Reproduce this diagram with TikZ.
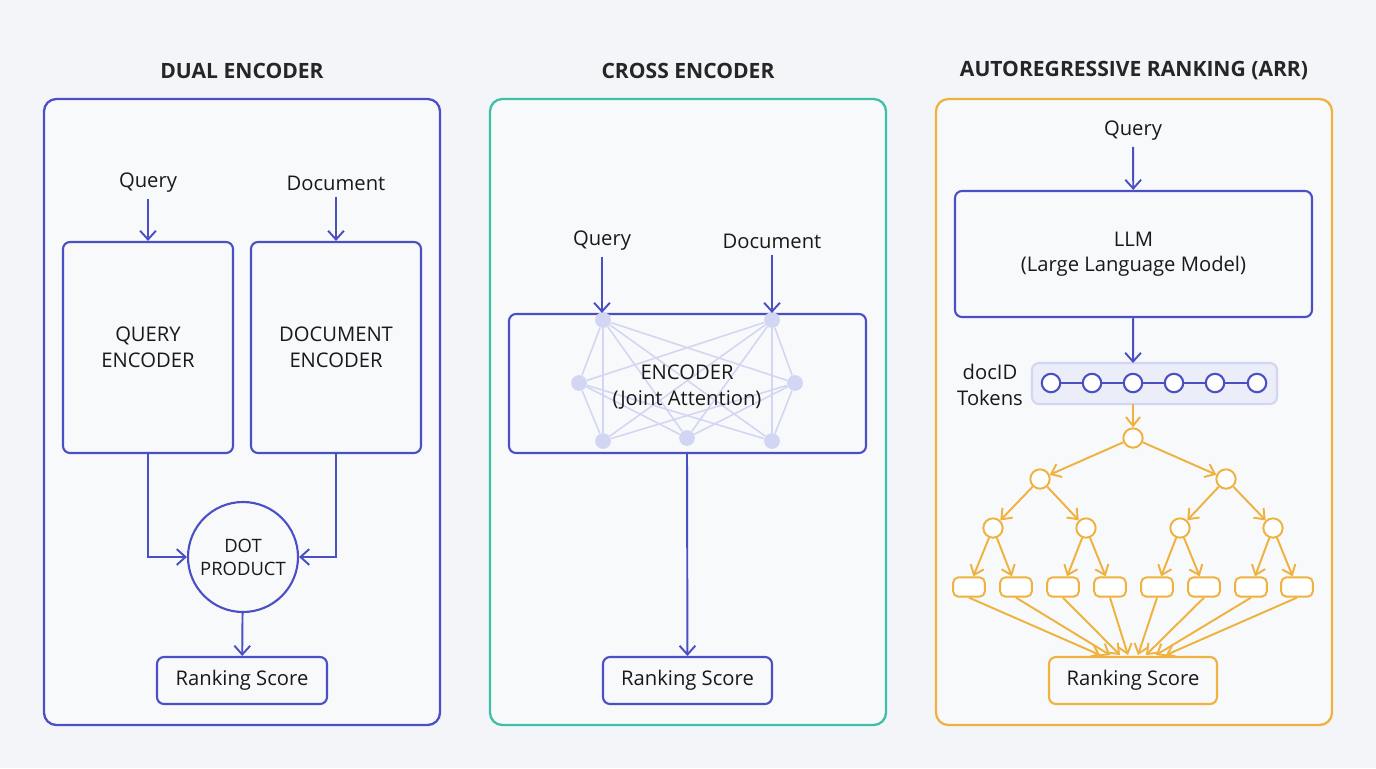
\documentclass[tikz,border=0pt]{standalone}
\usepackage{fontspec}
\setmainfont{Open Sans}
\usetikzlibrary{arrows.meta,positioning}
\definecolor{bgc}{HTML}{F3F5F9}
\definecolor{indigo}{HTML}{4A4FC4}
\definecolor{tealc}{HTML}{3DBFA8}
\definecolor{amber}{HTML}{EFB23E}
\definecolor{netc}{HTML}{D3D6F2}
\tikzset{
  panel/.style={draw=#1, line width=1.3pt, rounded corners=7pt, fill=white!40!bgc},
  ttl/.style={font=\bfseries\fontsize{12}{14}\selectfont, text=black!85},
  lbl/.style={font=\fontsize{11.5}{14.5}\selectfont, text=black!90, align=center},
  blk/.style={draw=indigo, line width=1.2pt, rounded corners=4pt, lbl},
  arr/.style={-{Straight Barb[length=5pt,width=9pt]}, line width=1.1pt, draw=indigo},
  oarr/.style={-{Straight Barb[length=5pt,width=8pt]}, line width=1.1pt, draw=amber},
  net/.style={circle, fill=netc, inner sep=0pt, minimum size=9pt},
  tok/.style={circle, draw=indigo, line width=1.2pt, fill=white, minimum size=10.5pt, inner sep=0pt},
  knot/.style={circle, draw=amber, line width=1.1pt, fill=white, minimum size=11pt, inner sep=0pt},
  leaf/.style={draw=amber, line width=1.1pt, rounded corners=3pt, fill=white, minimum width=18pt, minimum height=11pt, inner sep=0pt}
}
\begin{document}
\begin{tikzpicture}[x=0.02cm, y=-0.02cm]
  \fill[bgc] (0,0) rectangle (1376,768);
  \useasboundingbox (0,0) rectangle (1376,768);

  % panels and titles
  \draw[panel=indigo] (44,99) rectangle (440,725);
  \draw[panel=tealc] (490,99) rectangle (886,725);
  \draw[panel=amber] (936,99) rectangle (1332,725);
  \node[ttl] (t1) at (242,71) {DUAL ENCODER};
  \node[ttl] (t2) at (688,71) {CROSS ENCODER};
  \node[ttl] (t3) at (1134,71) {AUTOREGRESSIVE RANKING (ARR)};

  % dual encoder
  \node[lbl] (q1) at (148,183) {Query};
  \node[lbl] (d1) at (336,183) {Document};
  \node[blk, minimum width=170*0.02cm, minimum height=211*0.02cm] (qe) at (148,347.5) {QUERY\\ENCODER};
  \node[blk, minimum width=170*0.02cm, minimum height=211*0.02cm] (de) at (336,347.5) {DOCUMENT\\ENCODER};
  \node[circle, draw=indigo, line width=1.2pt, minimum size=110*0.02cm, lbl, font=\fontsize{10.5}{13}\selectfont] (dot) at (243,557) {DOT\\PRODUCT};
  \node[blk, minimum width=170*0.02cm, minimum height=47*0.02cm] (rs1) at (242,680.5) {Ranking Score};
  \draw[arr] (q1) -- (qe);
  \draw[arr] (d1) -- (de);
  \draw[arr] (qe.south) |- (dot.west);
  \draw[arr] (de.south) |- (dot.east);
  \draw[arr] (dot) -- (rs1);

  % cross encoder
  \node[lbl] (q2) at (602,241) {Query};
  \node[lbl] (d2) at (772,241) {Document};
  \node[blk, minimum width=357*0.02cm, minimum height=139*0.02cm] (enc) at (687.5,383.5) {};
  \foreach \n/\px/\py in {a/603/320, b/772/320, c/579/383, d/795/383, e/603/441, f/687/438, g/772/441}
    \node[net] (n\n) at (\px,\py) {};
  \foreach \u/\v in {a/c,a/d,a/e,a/f,a/g,b/c,b/d,b/e,b/f,b/g,c/e,c/f,c/g,d/e,d/f,d/g}
    \draw[netc, line width=0.9pt] (n\u) -- (n\v);
  \node[lbl] (enct) at (687,387) {ENCODER\\(Joint Attention)};
  \node[blk, minimum width=169*0.02cm, minimum height=47*0.02cm] (rs2) at (687.5,680.5) {Ranking Score};
  \draw[arr] (q2) -- (enc.north -| q2);
  \draw[arr] (d2) -- (enc.north -| d2);
  \draw[arr] (enc.south -| nf) -- (rs2);

  % autoregressive ranking
  \node[lbl] (q3) at (1133,131) {Query};
  \node[blk, minimum width=357*0.02cm, minimum height=126*0.02cm] (llm) at (1133.5,254) {LLM\\(Large Language Model)};
  \draw[arr] (q3) -- (llm);
  \node[lbl, align=center] (ids) at (990,385) {docID\\Tokens};
  \draw[draw=netc, fill=netc!45, line width=1.2pt, rounded corners=4pt] (1032,363) rectangle (1277,404);
  \coordinate (tb) at (1133,404);
  \coordinate (tt) at (1133,363);
  \foreach \i/\px in {1/1051,2/1092,3/1133,4/1174,5/1215,6/1257}
    \node[tok] (k\i) at (\px,383) {};
  \foreach \i [evaluate=\i as \j using int(\i+1)] in {1,...,5}
    \draw[indigo, line width=1.2pt] (k\i) -- (k\j);
  \draw[arr] (llm) -- (tt);
  \node[knot] (r0) at (1133,438) {};
  \draw[oarr] (tb) -- (r0);
  \node[knot] (r1) at (1040,479) {};
  \node[knot] (r2) at (1226,479) {};
  \draw[oarr] (r0) -- (r1);
  \draw[oarr] (r0) -- (r2);
  \foreach \i/\px/\p in {1/993/1,2/1086/1,3/1180/2,4/1273/2} {
    \node[knot] (s\i) at (\px,528) {};
    \draw[oarr] (r\p) -- (s\i);
  }
  \node[draw=amber, line width=1.2pt, rounded corners=4pt, lbl, minimum width=168*0.02cm, minimum height=47*0.02cm] (rs3) at (1133,680.5) {Ranking Score};
  \foreach \i/\px/\p/\tx in {1/969/1/1100,2/1016/1/1110,3/1063/2/1120,4/1110/2/1128,5/1157/3/1138,6/1204/3/1146,7/1251/4/1156,8/1297/4/1166} {
    \node[leaf] (l\i) at (\px,587) {};
    \draw[oarr] (s\p) -- (l\i);
    \coordinate (e\i) at (\tx,655);
    \draw[oarr] (l\i.south) -- (e\i);
  }
\end{tikzpicture}
\end{document}
